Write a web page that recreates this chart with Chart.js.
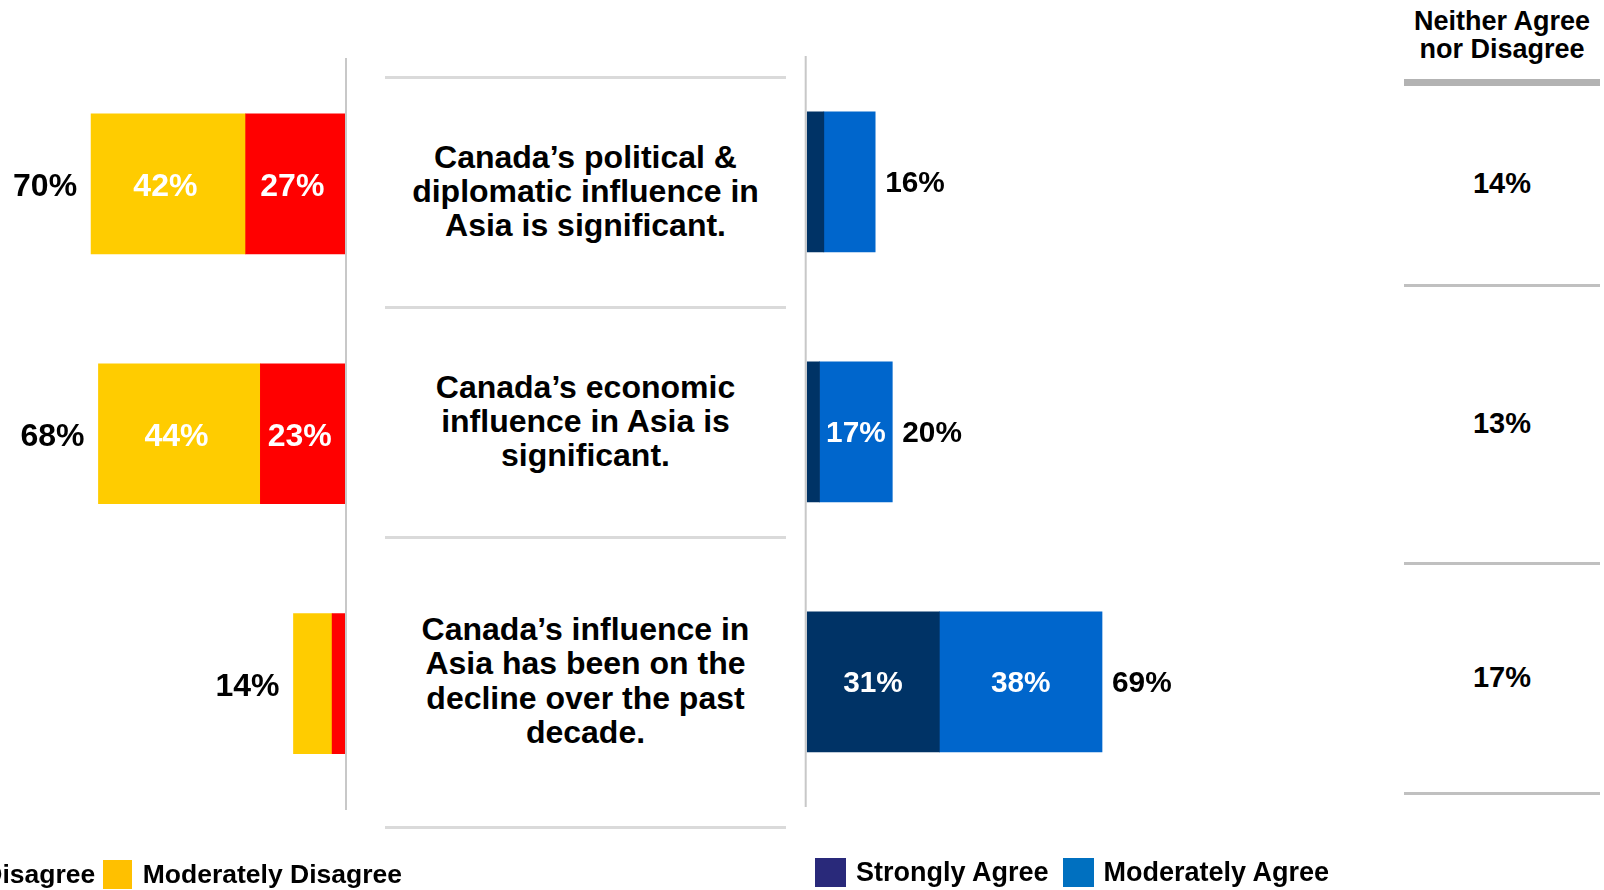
<!DOCTYPE html>
<html>
<head>
<meta charset="utf-8">
<script src="https://cdn.jsdelivr.net/npm/chart.js@4.4.1/dist/chart.umd.min.js"></script>
<style>
  html, body { margin: 0; padding: 0; background: #fff; }
  body {
    width: 1604px; height: 890px; position: relative; overflow: hidden;
    font-family: "Liberation Sans", Arial, sans-serif; font-weight: bold; color: #000;
  }
  canvas { position: absolute; top: 0; }
  #leftChart { left: 0; }
  #rightChart { left: 790px; }
  .rule { position: absolute; }
  .stmt {
    position: absolute; left: 385px; width: 401px; text-align: center;
    font-size: 32px; line-height: 34.4px; transform: translateY(-50%);
  }
  .neutralHead {
    position: absolute; left: 1404px; width: 196px; text-align: center;
    font-size: 27px; line-height: 28.6px; transform: translateY(-50%);
  }
  .neutralVal {
    position: absolute; left: 1404px; width: 196px; text-align: center;
    font-size: 29px; line-height: 34px; transform: translateY(-50%);
  }
  .legend { position: absolute; display: flex; align-items: center; white-space: nowrap; }
  .legend .sw { width: 29px; height: 29px; flex: none; }
  .legend .tx { font-size: 26.5px; line-height: 30px; }
  .legend.right .sw { width: 31px; }
  .legend.right .tx { font-size: 27px; }
</style>
</head>
<body>
<canvas id="leftChart" width="350" height="890"></canvas>
<canvas id="rightChart" width="580" height="890"></canvas>
<div id="overlay"></div>

<script>
// Survey statements (already wrapped into lines)
const categories = [
  ["Canada’s political &", "diplomatic influence in", "Asia is significant."],
  ["Canada’s economic", "influence in Asia is", "significant."],
  ["Canada’s influence in", "Asia has been on the", "decline over the past", "decade."]
];

// Disagree side
const stronglyDisagree   = [27, 23, 3.5];
const moderatelyDisagree = [42, 44, 10.5];
const totalDisagree      = [70, 68, 14];

// Agree side
const stronglyAgree   = [4, 3, 31];
const moderatelyAgree = [12, 17, 38];
const totalAgree      = [16, 20, 69];

// Neutral column
const neutral = [14, 13, 17];
const neutralHeader = ["Neither Agree", "nor Disagree"];

// Legend entries
const legendLeft  = ["Strongly Disagree", "Moderately Disagree"];
const legendRight = ["Strongly Agree", "Moderately Agree"];

const FONT = '"Liberation Sans", Arial, sans-serif';
const COLORS = {
  strongDis: '#ff0000', modDis: '#ffcc00',
  strongAgr: '#003366', modAgr: '#0066cc',
  legStrongDis: '#ff0000', legModDis: '#ffc000',
  legStrongAgr: '#29297a', legModAgr: '#0070c0'
};

// Percent labels: white inside wide segments, black totals at the bar end
function barLabels(side, totals, fs, nudge, innerShift) {
  return {
    id: 'barLabels',
    afterDatasetsDraw(chart) {
      const ctx = chart.ctx;
      const cap = fs * 0.358;
      ctx.save();
      ctx.font = `bold ${fs}px ${FONT}`;
      ctx.textBaseline = 'alphabetic';
      chart.data.datasets.forEach((ds, di) => {
        chart.getDatasetMeta(di).data.forEach((bar, i) => {
          const v = ds.data[i];
          if (v >= 15) {
            ctx.fillStyle = '#ffffff';
            ctx.textAlign = 'center';
            ctx.fillText(v + '%', (bar.x + bar.base) / 2 + innerShift, bar.y + cap + nudge);
          }
        });
      });
      const outer = chart.getDatasetMeta(chart.data.datasets.length - 1);
      outer.data.forEach((bar, i) => {
        ctx.fillStyle = '#000000';
        if (side === 'left') {
          ctx.textAlign = 'right';
          ctx.fillText(totals[i] + '%', bar.x - 14, bar.y + cap + nudge);
        } else {
          ctx.textAlign = 'left';
          ctx.fillText(totals[i] + '%', bar.x + 10, bar.y + cap + nudge);
        }
      });
      ctx.restore();
    }
  };
}

// Light grey baseline at the zero value
function zeroLine(offset, top, bottom) {
  return {
    id: 'zeroLine',
    afterDatasetsDraw(chart) {
      const ctx = chart.ctx;
      const x = chart.scales.x.getPixelForValue(0) + offset;
      ctx.save();
      ctx.strokeStyle = '#c8c8c8';
      ctx.lineWidth = 2;
      ctx.beginPath();
      ctx.moveTo(x, top);
      ctx.lineTo(x, bottom);
      ctx.stroke();
      ctx.restore();
    }
  };
}

function baseOptions(xMax, reverse, padding) {
  return {
    indexAxis: 'y',
    responsive: false,
    animation: false,
    events: [],
    layout: { padding },
    plugins: { legend: { display: false }, tooltip: { enabled: false } },
    scales: {
      x: { stacked: true, display: false, min: 0, max: xMax, reverse },
      y: { stacked: true, display: false }
    }
  };
}

// Disagree chart grows leftwards from the zero line at x = 345
new Chart(document.getElementById('leftChart'), {
  type: 'bar',
  data: {
    labels: categories,
    datasets: [
      { label: legendLeft[0], data: stronglyDisagree, backgroundColor: COLORS.strongDis, barThickness: 140 },
      { label: legendLeft[1], data: moderatelyDisagree, backgroundColor: COLORS.modDis, barThickness: 140 }
    ]
  },
  options: baseOptions(345 / 3.68, true, { left: 0, right: 5, top: 58.9, bottom: 81.4 }),
  plugins: [barLabels('left', totalDisagree, 32, 1, -3), zeroLine(1, 58, 810)]
});

// Agree chart grows rightwards from the zero line at x = 806.7
new Chart(document.getElementById('rightChart'), {
  type: 'bar',
  data: {
    labels: categories,
    datasets: [
      { label: legendRight[0], data: stronglyAgree, backgroundColor: COLORS.strongAgr, barThickness: 140 },
      { label: legendRight[1], data: moderatelyAgree, backgroundColor: COLORS.modAgr, barThickness: 140 }
    ]
  },
  options: baseOptions(563.3 / 4.28, false, { left: 16.7, right: 0, top: 56.85, bottom: 83.15 }),
  plugins: [barLabels('right', totalAgree, 29.8, -0.5, 0), zeroLine(-1, 56, 807)]
});

// Statements, neutral column, rules and legends
const overlay = document.getElementById('overlay');
function add(cls, styles, html) {
  const d = document.createElement('div');
  d.className = cls;
  Object.assign(d.style, styles);
  if (html !== undefined) d.innerHTML = html;
  overlay.appendChild(d);
  return d;
}

// rules around the statements
[76, 306, 536, 826].forEach(y =>
  add('rule', { left: '385px', top: y + 'px', width: '401px', height: '3px', background: '#dadada' }));

const stmtCenters = [191.5, 421.5, 681];
categories.forEach((lines, i) =>
  add('stmt', { top: stmtCenters[i] + 'px' }, lines.join('<br>')));

// neutral column
add('neutralHead', { top: '35.5px' }, neutralHeader.join('<br>'));
add('rule', { left: '1404px', top: '79px', width: '196px', height: '7px', background: '#b3b3b3' });
[284, 562, 792].forEach(y =>
  add('rule', { left: '1404px', top: y + 'px', width: '196px', height: '3px', background: '#c0c0c0' }));
const neutralCenters = [182.8, 422.5, 677];
neutral.forEach((v, i) => add('neutralVal', { top: neutralCenters[i] + 'px' }, v + '%'));

// legends
function legend(cls, pos, items, colors, gapInner, gapOuter) {
  const box = add('legend ' + cls, pos);
  items.forEach((t, i) => {
    const sw = document.createElement('div');
    sw.className = 'sw';
    sw.style.background = colors[i];
    if (i > 0) sw.style.marginLeft = gapOuter + 'px';
    const tx = document.createElement('div');
    tx.className = 'tx';
    tx.style.marginLeft = gapInner + 'px';
    tx.textContent = t;
    box.appendChild(sw);
    box.appendChild(tx);
  });
}
legend('left', { right: (1604 - 402) + 'px', top: '859px' }, legendLeft,
       [COLORS.legStrongDis, COLORS.legModDis], 10.5, 8);
legend('right', { left: '815px', top: '857px' }, legendRight,
       [COLORS.legStrongAgr, COLORS.legModAgr], 10, 14);
</script>
</body>
</html>
